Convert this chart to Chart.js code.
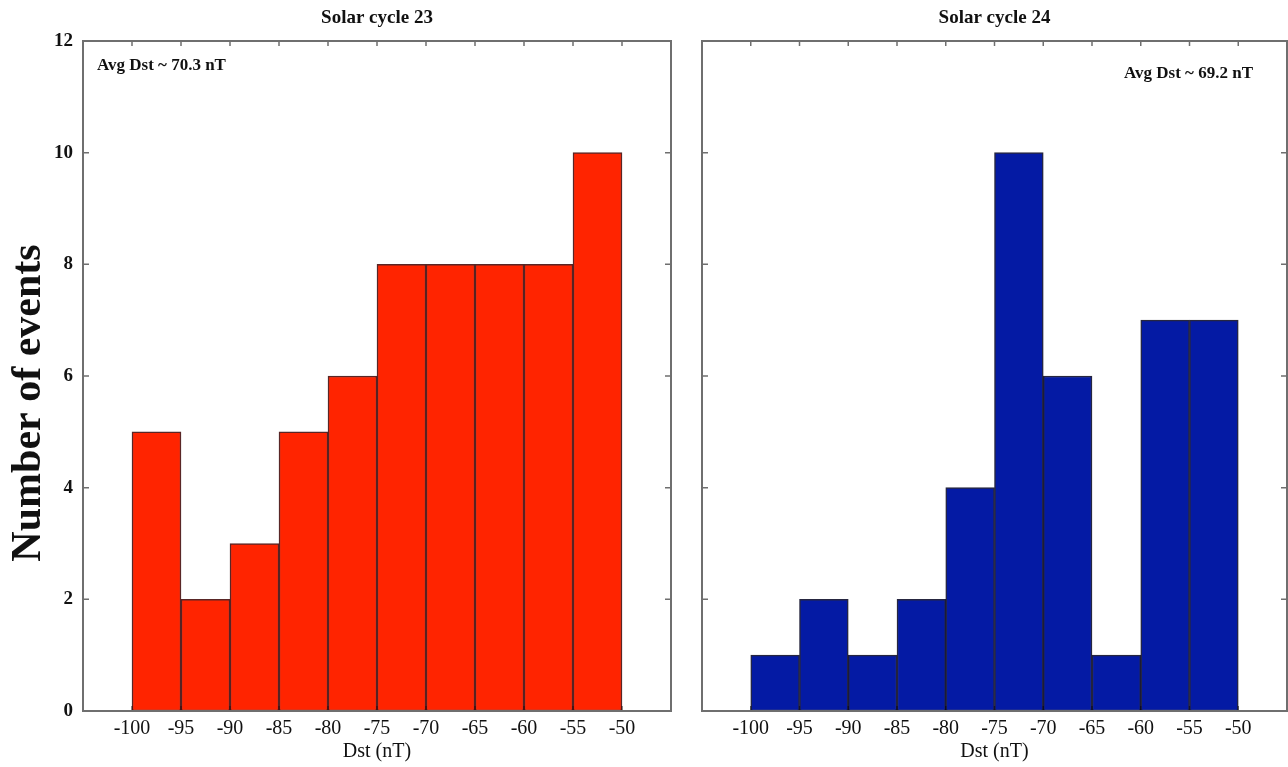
<!DOCTYPE html>
<html>
<head>
<meta charset="utf-8">
<script src="https://cdn.jsdelivr.net/npm/chart.js@4"></script>
<style>
  html, body { margin: 0; padding: 0; background: #fff; overflow: hidden; }
  body { width: 1288px; height: 767px; position: relative; }
  .panel { position: absolute; top: 0; height: 767px; }
  #p1 { left: 0; width: 685px; }
  #p2 { left: 685px; width: 603px; }
</style>
</head>
<body>
<div class="panel" id="p1"><canvas id="c1"></canvas></div>
<div class="panel" id="p2"><canvas id="c2"></canvas></div>
<script>
// ---- data ----
const binStarts = [-100, -95, -90, -85, -80, -75, -70, -65, -60, -55];
const binWidth = 5;
const cycle23Counts = [5, 2, 3, 5, 6, 8, 8, 8, 8, 10];
const cycle24Counts = [1, 2, 1, 2, 4, 10, 6, 1, 7, 7];
const xTickLabels = [-100, -95, -90, -85, -80, -75, -70, -65, -60, -55, -50];
const yTickLabels = [0, 2, 4, 6, 8, 10, 12];
const panelTitles = ['Solar cycle 23', 'Solar cycle 24'];
const avgNotes = ['Avg Dst ~ 70.3 nT', 'Avg Dst ~ 69.2 nT'];
const xAxisTitle = 'Dst (nT)';
const yAxisTitle = 'Number of events';

const SERIF = "'Liberation Serif', 'DejaVu Serif', serif";

function buildPoints(counts) {
  return binStarts.map((s, i) => ({ x: s + binWidth / 2, y: counts[i] }));
}

// plugin: titles, inward ticks, frame, annotation
function panelPlugin(idx, showYLabel) {
  return {
    id: 'panelDeco' + idx,
    beforeDatasetsDraw(chart) {
      const { ctx, chartArea: a, scales: { x, y } } = chart;
      ctx.save();
      ctx.strokeStyle = '#6f6f6f';
      ctx.lineWidth = 1.5;
      ctx.beginPath();
      xTickLabels.forEach(v => {
        const px = x.getPixelForValue(v);
        ctx.moveTo(px, a.top); ctx.lineTo(px, a.top + 5);
        ctx.moveTo(px, a.bottom); ctx.lineTo(px, a.bottom - 5);
      });
      yTickLabels.slice(1, -1).forEach(v => {
        const py = y.getPixelForValue(v);
        ctx.moveTo(a.left, py); ctx.lineTo(a.left + 6, py);
        ctx.moveTo(a.right, py); ctx.lineTo(a.right - 6, py);
      });
      ctx.stroke();
      ctx.restore();
    },
    afterDatasetsDraw(chart) {
      const { ctx, chartArea: a } = chart;
      ctx.save();
      ctx.strokeStyle = '#6f6f6f';
      ctx.lineWidth = 2;
      ctx.strokeRect(a.left, a.top, a.right - a.left, a.bottom - a.top);
      // panel title
      ctx.fillStyle = '#111';
      ctx.font = 'bold 19px ' + SERIF;
      ctx.textAlign = 'center';
      ctx.textBaseline = 'middle';
      ctx.fillText(panelTitles[idx], (a.left + a.right) / 2, 18);
      // avg note
      ctx.font = 'bold 17px ' + SERIF;
      if (idx === 0) {
        ctx.textAlign = 'left';
        ctx.fillText(avgNotes[idx], a.left + 14, a.top + 25);
      } else {
        ctx.textAlign = 'right';
        ctx.fillText(avgNotes[idx], a.right - 34, a.top + 33);
      }
      if (showYLabel) {
        ctx.translate(29, 403);
        ctx.rotate(-Math.PI / 2);
        ctx.font = 'bold 42px ' + SERIF;
        ctx.textAlign = 'center';
        ctx.textBaseline = 'middle';
        ctx.fillText(yAxisTitle, 0, 0);
      }
      ctx.restore();
    }
  };
}

function makeChart(canvasId, idx, counts, fill, border, yWidth, rightPad, showYTicks) {
  return new Chart(document.getElementById(canvasId), {
    type: 'bar',
    data: {
      datasets: [{
        data: buildPoints(counts),
        backgroundColor: fill,
        borderColor: border,
        borderWidth: 1.5,
        borderSkipped: false,
        barPercentage: 1,
        categoryPercentage: 1
      }]
    },
    options: {
      responsive: true,
      maintainAspectRatio: false,
      devicePixelRatio: 1,
      animation: false,
      layout: { padding: { top: 41, left: 0, right: rightPad, bottom: 0 } },
      plugins: { legend: { display: false }, tooltip: { enabled: false }, title: { display: false } },
      scales: {
        x: {
          type: 'linear',
          min: -105, max: -45,
          offset: false,
          grid: { display: false, drawTicks: false },
          border: { display: false },
          ticks: {
            stepSize: 5,
            autoSkip: false,
            maxRotation: 0,
            padding: 6,
            color: '#111',
            font: { family: SERIF, size: 20 },
            callback: v => xTickLabels.includes(Math.round(v)) ? String(Math.round(v)) : ''
          },
          title: {
            display: true,
            text: xAxisTitle,
            color: '#111',
            font: { family: SERIF, size: 20 },
            padding: { top: 0, bottom: 3 }
          },
          afterFit: s => { s.height = 56; s.paddingLeft = 0; s.paddingRight = 0; }
        },
        y: {
          min: 0, max: 12,
          grid: { display: false, drawTicks: false },
          border: { display: false },
          ticks: {
            display: showYTicks,
            stepSize: 2,
            padding: 10,
            color: '#111',
            font: { family: SERIF, size: 19, weight: 'bold' },
            callback: v => yTickLabels.includes(v) ? String(v) : ''
          },
          afterFit: s => { s.width = yWidth; s.paddingTop = 0; s.paddingBottom = 0; }
        }
      }
    },
    plugins: [panelPlugin(idx, idx === 0)]
  });
}

makeChart('c1', 0, cycle23Counts, 'rgb(255,36,0)', 'rgba(60,0,0,0.85)', 83, 14, true);
makeChart('c2', 1, cycle24Counts, 'rgb(4,26,164)', 'rgba(0,0,30,0.85)', 17, 1, false);
</script>
</body>
</html>
